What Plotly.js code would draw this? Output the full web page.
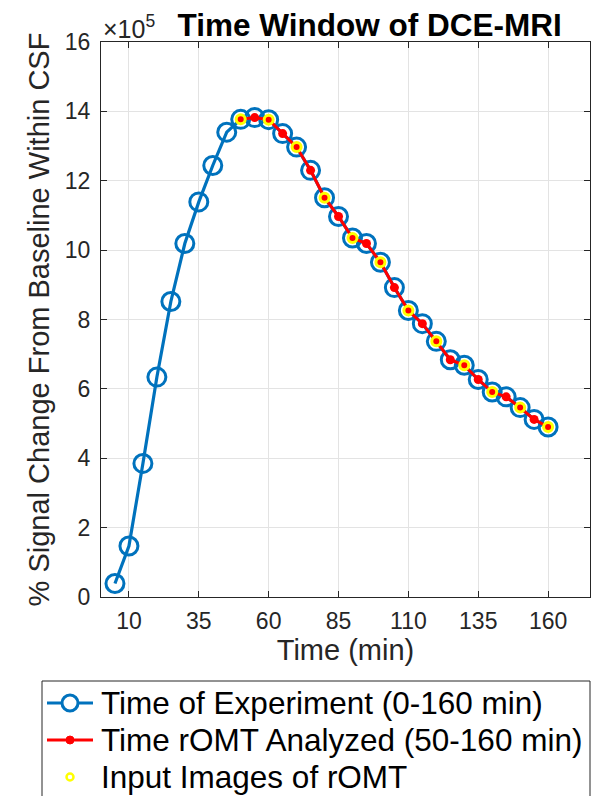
<!DOCTYPE html>
<html>
<head>
<meta charset="utf-8">
<script src="https://cdn.plot.ly/plotly-3.0.1.min.js"></script>
<style>html,body{margin:0;padding:0;background:#fff;}#chart{width:613px;height:796px;}</style>
</head>
<body>
<div id="chart"></div>
<script>
// Time points (min)
var times = [5,10,15,20,25,30,35,40,45,50,55,60,65,70,75,80,85,90,95,100,105,110,115,120,125,130,135,140,145,150,155,160];
// % signal change from baseline within CSF (units of 1e5)
var signal = [0.39,1.47,3.85,6.34,8.52,10.19,11.39,12.44,13.40,13.77,13.82,13.76,13.36,12.97,12.30,11.51,10.97,10.35,10.19,9.65,8.92,8.26,7.88,7.37,6.84,6.68,6.27,5.91,5.77,5.46,5.12,4.90];
// rOMT analysed window (min)
var romtTimes = [50,55,60,65,70,75,80,85,90,95,100,105,110,115,120,125,130,135,140,145,150,155,160];
// rOMT input image times (min)
var inputTimes = [50,60,70,80,90,100,110,120,130,140,150,160];
var xTicks = [10,35,60,85,110,135,160];
var yTicks = [0,2,4,6,8,10,12,14,16];
var seriesNames = ['Time of Experiment (0-160 min)','Time rOMT Analyzed (50-160 min)','Input Images of rOMT'];

function lookup(ts){ return ts.map(function(t){ return signal[times.indexOf(t)]; }); }

var FONT = 'Liberation Sans, Arial, Helvetica, sans-serif';
var blue = '#0072BD', red = '#FF0000', yellow = '#FFFF00';

var W = 613, H = 796, M = {l: 101, r: 23, t: 42, b: 199};
var PW = W - M.l - M.r, PH = H - M.t - M.b;
function px(x){ return (x - M.l) / PW; }
function py(y){ return (H - M.b - y) / PH; }

var traces = [
  {x: times, y: signal, name: seriesNames[0], mode: 'lines+markers',
   line: {color: blue, width: 3.2},
   marker: {symbol: 'circle-open', size: 18, color: blue, line: {width: 3, color: blue}}},
  {x: romtTimes, y: lookup(romtTimes), name: seriesNames[1], mode: 'lines+markers',
   line: {color: red, width: 3},
   marker: {symbol: 'circle', size: 9, color: red}},
  {x: inputTimes, y: lookup(inputTimes), name: seriesNames[2], mode: 'markers',
   marker: {symbol: 'circle-open', size: 9, color: yellow, line: {width: 3, color: yellow}}}
];

var axisCommon = {
  showline: true, linecolor: '#262626', linewidth: 1, mirror: 'ticks',
  ticks: 'inside', ticklen: 6, tickcolor: '#262626', tickwidth: 1,
  showgrid: true, gridcolor: '#e3e3e3', gridwidth: 1, zeroline: false,
  tickfont: {family: FONT, size: 23, color: '#262626'}
};

// Legend drawn as a box with symbols and texts
var rows = [703, 740, 777];
var shapes = [
  {type: 'rect', xref: 'paper', yref: 'paper', x0: px(42), x1: px(590), y0: py(681), y1: py(810),
   line: {color: '#262626', width: 1}, fillcolor: 'rgba(0,0,0,0)', layer: 'above'}
];
var legendLineColors = [blue, red, null];
rows.forEach(function(r, i){
  if (legendLineColors[i]) {
    shapes.push({type: 'line', xref: 'paper', yref: 'paper', x0: px(47), x1: px(93), y0: py(r), y1: py(r),
                 line: {color: legendLineColors[i], width: 3}});
  }
});
function circ(cx, cy, rad, lineColor, lineW, fill){
  return {type: 'circle', xref: 'paper', yref: 'paper', xsizemode: 'pixel', ysizemode: 'pixel',
          xanchor: px(cx), yanchor: py(cy), x0: -rad, x1: rad, y0: -rad, y1: rad,
          line: {color: lineColor, width: lineW}, fillcolor: fill};
}
shapes.push(circ(70, rows[0], 8, blue, 3, '#fff'));
shapes.push(circ(70, rows[1], 4, red, 1, red));
shapes.push(circ(70, rows[2], 3.5, yellow, 2.5, 'rgba(0,0,0,0)'));

var annotations = [{
  text: '×10<sup>5</sup>', xref: 'paper', yref: 'paper', x: px(101), y: py(42), xanchor: 'left', yanchor: 'bottom',
  showarrow: false, font: {family: FONT, size: 25, color: '#262626'}, yshift: -3
}];
rows.forEach(function(r, i){
  annotations.push({text: seriesNames[i], xref: 'paper', yref: 'paper', x: px(99), y: py(r),
    xanchor: 'left', yanchor: 'middle', showarrow: false,
    font: {family: FONT, size: 31.5, color: '#000'}});
});

var layout = {
  width: W, height: H,
  paper_bgcolor: '#fff', plot_bgcolor: '#fff',
  margin: {l: M.l, r: M.r, t: M.t, b: M.b, pad: 0, autoexpand: false},
  showlegend: false,
  title: {text: '<b>Time Window of DCE-MRI</b>', font: {family: FONT, size: 31.5, color: '#000'},
          x: 0.603, xanchor: 'center', y: 0.969, yanchor: 'middle', xref: 'container', yref: 'container'},
  xaxis: Object.assign({}, axisCommon, {
    range: [0, 175], tickmode: 'array', tickvals: xTicks, ticktext: xTicks.map(String),
    ticklabelstandoff: 3,
    title: {text: 'Time (min)', font: {family: FONT, size: 29, color: '#262626'}, standoff: 5}
  }),
  yaxis: Object.assign({}, axisCommon, {
    range: [0, 16], tickmode: 'array', tickvals: yTicks, ticktext: yTicks.map(String),
    ticklabelstandoff: 5,
    title: {text: '% Signal Change From Baseline Within CSF', font: {family: FONT, size: 29, color: '#262626'}, standoff: 6}
  }),
  shapes: shapes,
  annotations: annotations
};

Plotly.newPlot('chart', traces, layout, {displayModeBar: false, staticPlot: true});
</script>
</body>
</html>
